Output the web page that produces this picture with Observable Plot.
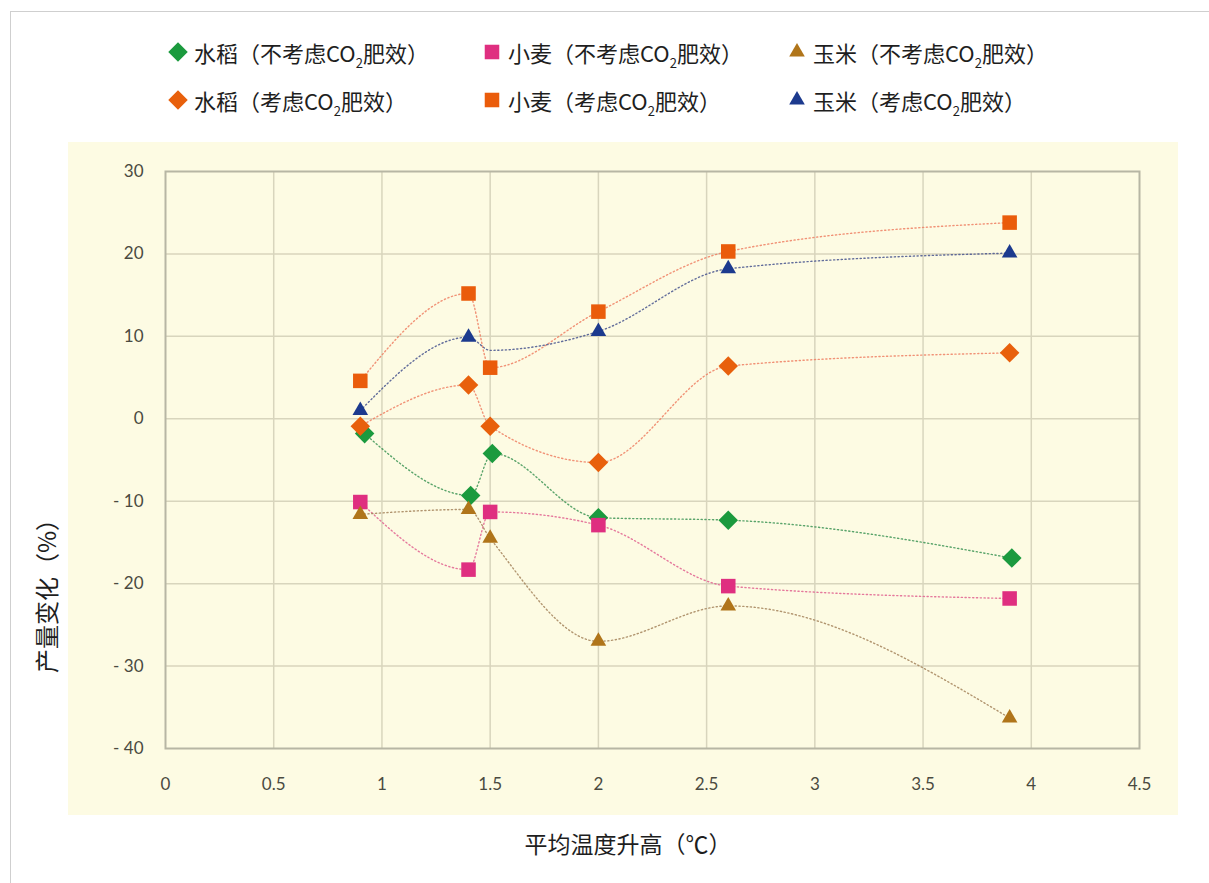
<!DOCTYPE html>
<html>
<head>
<meta charset="utf-8">
<script src="https://cdn.jsdelivr.net/npm/d3@7"></script>
<script src="https://cdn.jsdelivr.net/npm/@observablehq/plot@0.6"></script>
<style>
  html, body { margin: 0; padding: 0; background: #fff; }
  #wrap { position: relative; width: 1209px; height: 883px; overflow: hidden; font-family: "Noto Sans CJK SC", "Noto Sans", sans-serif; }
  #border { position: absolute; left: 10px; top: 11px; width: 1300px; height: 1000px; border-top: 1.5px solid #cfcfcf; border-left: 1.5px solid #cfcfcf; }
  #bg { position: absolute; left: 68px; top: 142px; width: 1110px; height: 673px; background: #fdfbe3; }
  #chart { position: absolute; left: 0; top: 130px; }
  .leg { position: absolute; display: flex; align-items: center; font-size: 22px; color: #1e1e1e; white-space: nowrap; }
  .leg svg { margin-right: 4px; }
  .leg sub { font-size: 13px; vertical-align: -6px; line-height: 0; }
  #ytitle { position: absolute; left: 45px; top: 590px; transform: translate(-50%, -50%) rotate(-90deg); font-size: 24px; color: #1e1e1e; white-space: nowrap; }
  #xtitle { position: absolute; left: 628px; top: 843px; transform: translate(-50%, -50%); font-size: 23px; color: #1e1e1e; white-space: nowrap; }
</style>
</head>
<body>
<div id="wrap">
  <div id="border"></div>
  <div id="bg"></div>
  <div id="legend"></div>
  <div id="chart"></div>
  <div id="ytitle">产量变化（%）</div>
  <div id="xtitle">平均温度升高（℃）</div>
</div>
<script>
// ---- data ----
const xs = [0.9, 1.4, 1.5, 2, 2.6, 3.9];
const riceNoX = [0.92, 1.41, 1.51, 2, 2.6, 3.91];
const riceNoCO2 = [-1.8, -9.3, -4.2, -12.0, -12.3, -16.9];
const riceCO2 = [-0.9, 4.1, -0.9, -5.3, 6.4, 8.0];
const wheatNoCO2 = [-10.1, -18.3, -11.3, -12.9, -20.3, -21.8];
const wheatCO2 = [4.6, 15.2, 6.2, 13.0, 20.3, 23.8];
const maizeNoCO2 = [-11.6, -11.0, -14.5, -27.0, -22.7, -36.3];
const maizeCO2 = [1.0, 9.9, 8.3, 10.6, 18.2, 20.1];
const maizeCO2Marked = [true, true, false, true, true, true];
const xTicks = [0, 0.5, 1, 1.5, 2, 2.5, 3, 3.5, 4, 4.5];
const yTicks = [-40, -30, -20, -10, 0, 10, 20, 30];

const seriesNames = ["水稻（不考虑CO2肥效）", "小麦（不考虑CO2肥效）", "玉米（不考虑CO2肥效）",
                     "水稻（考虑CO2肥效）", "小麦（考虑CO2肥效）", "玉米（考虑CO2肥效）"];
const seriesColors = ["#1b9a3e", "#df2f80", "#b0751a", "#e8600c", "#ea5c0b", "#1c3a8e"];
const seriesSymbols = ["diamond2", "square", "triangle", "diamond2", "square", "triangle"];
const seriesR = [8.8, 8.2, 5.8, 8.8, 8.2, 5.8];
const lineColors = ["#3c9455", "#e0608f", "#a3835a", "#ef7f63", "#ef7f63", "#46538e"];

const seriesX = [riceNoX, xs, xs, xs, xs, xs];
const seriesY = [riceNoCO2, wheatNoCO2, maizeNoCO2, riceCO2, wheatCO2, maizeCO2];
const seriesMarked = [null, null, null, null, null, maizeCO2Marked];

const series = seriesY.map((ys, s) => ys.map((y, i) => ({
  s, x: seriesX[s][i], y,
  marked: seriesMarked[s] ? seriesMarked[s][i] : true
})));

// ---- legend ----
const legend = document.getElementById("legend");
const legPos = [[178, 52], [492, 52], [797, 52], [178, 100], [492, 100], [797, 100]];
function symbolPath(sym, r) {
  const map = {diamond2: d3.symbolDiamond2, square: d3.symbolSquare, triangle: d3.symbolTriangle};
  return d3.symbol(map[sym], Math.PI * r * r)();
}
seriesNames.forEach((name, i) => {
  const el = document.createElement("div");
  el.className = "leg";
  el.style.left = (legPos[i][0] - 12) + "px";
  el.style.top = (legPos[i][1] - 16) + "px";
  el.style.height = "32px";
  const html = name.replace("CO2", "CO<sub>2</sub>");
  el.innerHTML = `<svg width="24" height="24" viewBox="-12 -12 24 24"><path d="${symbolPath(seriesSymbols[i], seriesR[i])}" fill="${seriesColors[i]}"/></svg><span>${html}</span>`;
  legend.appendChild(el);
});

// ---- chart ----
const lineMarks = series.map((data, s) => Plot.line(data, {
  x: "x", y: "y", stroke: lineColors[s], curve: "monotone-x",
  strokeWidth: 1.4, strokeDasharray: "1.2,2.6", strokeOpacity: 0.85
}));
const dotMarks = series.map((data, s) => Plot.dot(data.filter(d => d.marked), {
  x: "x", y: "y", symbol: seriesSymbols[s], fill: seriesColors[s], r: seriesR[s], stroke: "none"
}));

const chart = Plot.plot({
  width: 1209,
  height: 753,
  marginLeft: 165,
  marginRight: 70,
  marginTop: 41,
  marginBottom: 135,
  style: {background: "transparent", fontFamily: "Lato, 'DejaVu Sans', sans-serif"},
  x: {domain: [0, 4.5]},
  y: {domain: [-40, 30]},
  marks: [
    Plot.gridX(xTicks.slice(1, -1), {stroke: "#d8d5bd", strokeOpacity: 1, strokeWidth: 1.5}),
    Plot.gridY(yTicks.slice(1, -1), {stroke: "#d8d5bd", strokeOpacity: 1, strokeWidth: 1.5}),
    Plot.frame({stroke: "#b7b6a4", strokeWidth: 2}),
    Plot.axisX(xTicks, {tickSize: 0, tickPadding: 29, fontSize: 17, fill: "#4a4a40", label: null,
      tickFormat: d => String(d)}),
    Plot.axisY(yTicks, {tickSize: 0, tickPadding: 22, fontSize: 17, fill: "#4a4a40", label: null,
      tickFormat: d => d < 0 ? "- " + Math.abs(d) : String(d)}),
    ...lineMarks,
    ...dotMarks
  ]
});
document.getElementById("chart").appendChild(chart);
</script>
</body>
</html>
